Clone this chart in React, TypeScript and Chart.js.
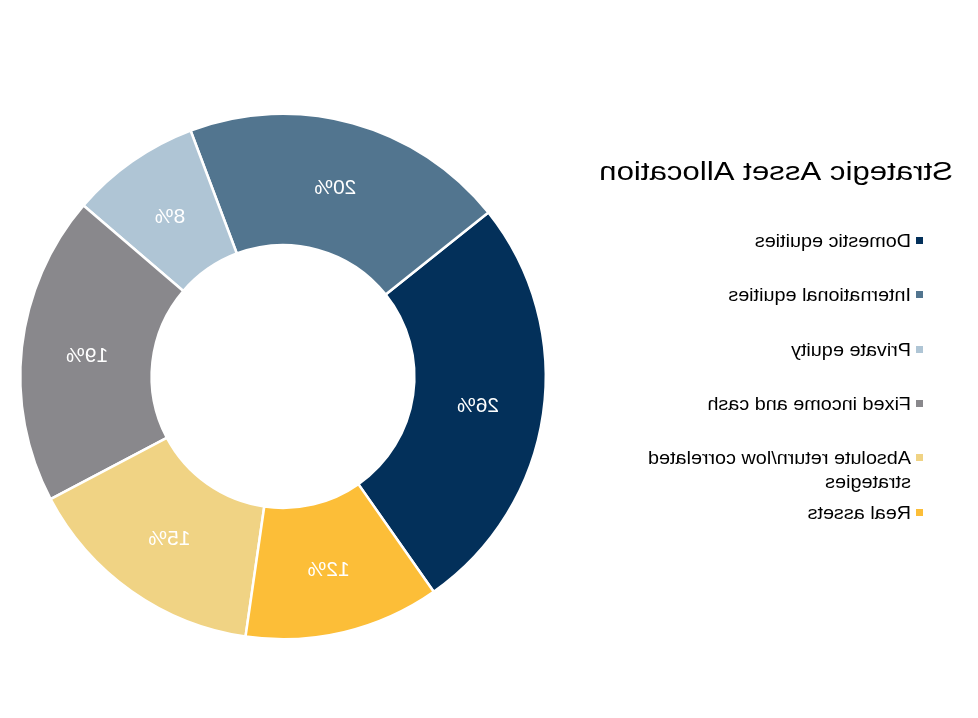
import React, { useEffect, useRef } from 'react';
import { Chart, registerables } from 'chart.js';

Chart.register(...registerables);

const titleText = 'Strategic Asset Allocation';
const categories = [
  'Domestic equities',
  'International equities',
  'Private equity',
  'Fixed income and cash',
  'Absolute return/low correlated strategies',
  'Real assets',
];
const legendLines = [
  ['Domestic equities'],
  ['International equities'],
  ['Private equity'],
  ['Fixed income and cash'],
  ['Absolute return/low correlated', 'strategies'],
  ['Real assets'],
];
const allocation = [26, 20, 8, 19, 15, 12];
const sliceColors = ['#03305A', '#52758F', '#AFC5D5', '#89888C', '#F0D384', '#FCBE38'];

const FONT = '"Liberation Sans", Arial, sans-serif';

const labelPlugin = {
  id: 'sliceLabels',
  afterDatasetsDraw(chart: any) {
    const { ctx } = chart;
    const meta = chart.getDatasetMeta(0);
    ctx.save();
    ctx.fillStyle = '#ffffff';
    ctx.font = `21px ${FONT}`;
    ctx.textAlign = 'center';
    ctx.textBaseline = 'middle';
    meta.data.forEach((arc: any, i: number) => {
      const p = arc.tooltipPosition();
      ctx.fillText(`${allocation[i]}%`, p.x, p.y + 2);
    });
    ctx.restore();
  },
};

const legendPlugin = {
  id: 'sideLegend',
  afterDraw(chart: any) {
    const { ctx } = chart;
    ctx.save();
    ctx.fillStyle = '#000000';
    ctx.textAlign = 'left';
    ctx.textBaseline = 'alphabetic';
    // title
    ctx.save();
    ctx.translate(25, 180);
    ctx.scale(1.2, 1);
    ctx.font = `26px ${FONT}`;
    ctx.fillText(titleText, 0, 0);
    ctx.restore();
    // items
    const baselines = [247, 301, 356, 410, 464, 519];
    legendLines.forEach((lines, i) => {
      const y = baselines[i];
      ctx.fillStyle = sliceColors[i];
      ctx.fillRect(55, y - 10, 7, 7);
      ctx.fillStyle = '#000000';
      lines.forEach((t, j) => {
        ctx.save();
        ctx.translate(67, y + j * 24);
        ctx.scale(1.1, 1);
        ctx.font = `18px ${FONT}`;
        ctx.fillText(t, 0, 0);
        ctx.restore();
      });
    });
    ctx.restore();
  },
};

export default function App() {
  const ref = useRef<HTMLCanvasElement>(null);
  useEffect(() => {
    const chart = new Chart(ref.current as HTMLCanvasElement, {
      type: 'doughnut',
      data: {
        labels: categories,
        datasets: [
          {
            data: allocation,
            backgroundColor: sliceColors,
            borderColor: '#ffffff',
            borderWidth: 2.5,
            hoverOffset: 0,
          },
        ],
      },
      options: {
        responsive: false,
        animation: false,
        rotation: 215,
        cutout: '50%',
        layout: { padding: { left: 431, right: 19, top: 112, bottom: 77 } },
        plugins: {
          legend: { display: false },
          tooltip: { enabled: false },
          title: { display: false },
        },
      },
      plugins: [labelPlugin, legendPlugin],
    } as any);
    return () => chart.destroy();
  }, []);
  return (
    <div style={{ position: 'fixed', left: 0, top: 0, width: 978, height: 718, background: '#ffffff' }}>
      <canvas
        ref={ref}
        width={978}
        height={718}
        style={{ display: 'block', width: 978, height: 718, transform: 'scaleX(-1)' }}
      />
    </div>
  );
}
